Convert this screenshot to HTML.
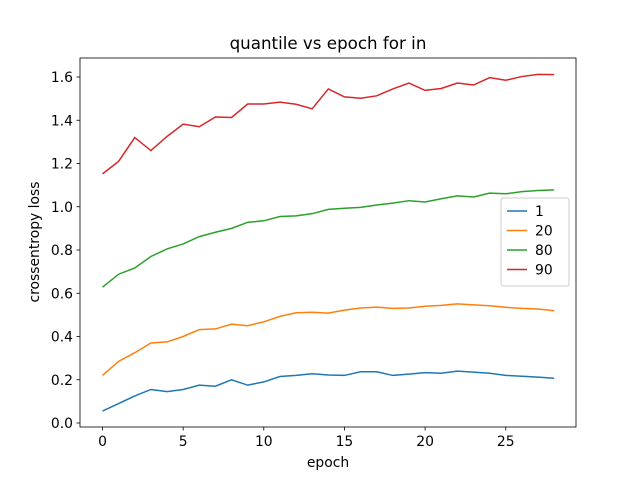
<!DOCTYPE html>
<html><head><meta charset="utf-8"><style>
body{margin:0;background:#fff;}
svg{display:block;font-family:"DejaVu Sans","Liberation Sans",sans-serif;}
</style></head><body>
<svg id="chart" width="640" height="480">
<rect width="640" height="480" fill="#fff"/>
<text x="328" y="49" font-size="16.7" text-anchor="middle">quantile vs epoch for in</text>
<g id="plot"></g>
<rect x="80" y="58" width="496" height="369" fill="none" stroke="#000" stroke-width="0.8"/>
<text x="328" y="467" font-size="13.9" text-anchor="middle">epoch</text>
<text transform="translate(39,242) rotate(-90)" font-size="13.9" text-anchor="middle">crossentropy loss</text>
</svg>
<script>
const epochs = [...Array(29).keys()];
const labels = ["1","20","80","90"];
const colors = ["#1f77b4","#ff7f0e","#2ca02c","#d62728"];
const q1 = [.055,.09,.125,.155,.145,.155,.175,.17,.20,.175,.19,.215,.22,.228,.222,.22,.237,.237,.22,.226,.233,.23,.24,.235,.23,.22,.216,.212,.207];
const q20 = [.22,.285,.325,.37,.375,.40,.432,.435,.457,.45,.468,.493,.51,.512,.508,.522,.532,.536,.53,.532,.54,.544,.551,.546,.542,.535,.53,.527,.519];
const q80 = [.628,.688,.717,.77,.805,.828,.862,.882,.9,.928,.935,.955,.958,.968,.988,.993,.997,1.008,1.017,1.028,1.022,1.037,1.05,1.045,1.063,1.06,1.07,1.075,1.078];
const q90 = [1.152,1.21,1.32,1.26,1.325,1.382,1.37,1.415,1.413,1.475,1.475,1.484,1.474,1.453,1.545,1.508,1.502,1.513,1.545,1.572,1.538,1.547,1.572,1.563,1.597,1.585,1.602,1.612,1.611];
const series = [q1,q20,q80,q90];
const xTicks = [0,5,10,15,20,25];
const yTicks = [0.0,0.2,0.4,0.6,0.8,1.0,1.2,1.4,1.6];
const NS="http://www.w3.org/2000/svg";
const xs = v => 102.5 + v*16.13;
const ys = v => 423 - v*216.25;
const g = document.getElementById('plot');
function mk(t,a){const e=document.createElementNS(NS,t);for(const k in a)e.setAttribute(k,a[k]);return e;}
xTicks.forEach(t=>{
  const l=mk('line',{x1:xs(t),x2:xs(t),y1:427,y2:430.5,stroke:'#000','stroke-width':0.8});
  
  
  g.appendChild(l);
  const tx=mk('text',{x:xs(t),y:446,'font-size':13.9,'text-anchor':'middle'});
  tx.textContent=t;
  
  
  g.appendChild(tx);
});
yTicks.forEach(t=>{
  const l=mk('line',{x1:76.5,x2:80,y1:ys(t),y2:ys(t),stroke:'#000','stroke-width':0.8});
  
  
  g.appendChild(l);
  const tx=mk('text',{x:73,y:ys(t)+5,'font-size':13.9,'text-anchor':'end'});
  tx.textContent=t.toFixed(1);
  
  
  g.appendChild(tx);
});
series.forEach((s,i)=>{
  const p=mk('polyline',{points:s.map((v,j)=>xs(epochs[j])+','+ys(v)).join(' '),fill:'none',stroke:colors[i],'stroke-width':1.5});
  
  
  g.appendChild(p);
});
const lg=mk('g',{});


lg.appendChild(mk('rect',{x:501,y:198,width:68,height:88,rx:2,fill:'#fff','fill-opacity':0.8,stroke:'#ccc','stroke-width':1}));
labels.forEach((lab,i)=>{
  const y=211+i*19.5;
  lg.appendChild(mk('line',{x1:507,x2:527,y1:y,y2:y,stroke:colors[i],'stroke-width':1.5}));
  const t=mk('text',{x:535,y:y+5,'font-size':13.9});
  t.textContent=lab;
  
  
  lg.appendChild(t);
});
g.appendChild(lg);
</script>
</body></html>
